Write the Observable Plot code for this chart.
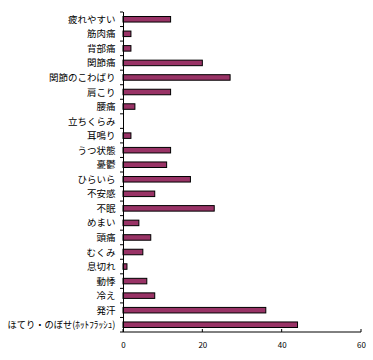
<!DOCTYPE html>
<html><head><meta charset="utf-8">
<script src="https://cdn.jsdelivr.net/npm/d3@7"></script>
<script src="https://cdn.jsdelivr.net/npm/@observablehq/plot@0.6"></script>
<style>
html,body{margin:0;padding:0;background:#fff;overflow:hidden;}
svg{display:block;font-family:"Noto Sans CJK JP",sans-serif;}
</style></head><body>
<div id="chart"></div>
<script>
const symptoms = ["疲れやすい","筋肉痛","背部痛","関節痛","関節のこわばり","肩こり","腰痛","立ちくらみ","耳鳴り","うつ状態","憂鬱","ひらいら","不安感","不眠","めまい","頭痛","むくみ","息切れ","動悸","冷え","発汗","ほてり・のぼせ(ﾎｯﾄﾌﾗｯｼｭ)"];
const counts = [12,2,2,20,27,12,3,0,2,12,11,17,8,23,4,7,5,1,6,8,36,44];
const xTicks = [0,20,40,60];

const data = symptoms.map((s,i)=>({symptom:s, count:counts[i]}));

const chart = Plot.plot({
  width: 373, height: 360,
  marginLeft: 123, marginRight: 12, marginTop: 12, marginBottom: 28,
  style: {fontFamily: '"Noto Sans CJK JP", sans-serif', color: "#000", background: "#fff", maxWidth: "none"},
  x: {domain: [0,60], ticks: xTicks},
  y: {domain: symptoms, paddingInner: 0.62, paddingOuter: 0.31, round: false},
  marks: [
    Plot.barX(data, {x: "count", y: "symptom", fill: "#993366", stroke: "#000", strokeWidth: 1}),
    Plot.axisX({ticks: xTicks, tickSize: 0, tickPadding: 10, fontSize: 8, label: null}),
    Plot.axisY({tickSize: 0, tickPadding: 8, fontSize: 9.5, label: null}),
    Plot.ruleX([0], {stroke: "#000"})
  ]
});
document.getElementById("chart").appendChild(chart);

// boundary ticks on y axis and inward ticks on x axis, from the chart's scales
const sy = chart.scale("y"), sx = chart.scale("x");
const svg = d3.select(chart);
const step = sy.step;
const x0 = sx.apply(0);
const bounds = d3.range(symptoms.length + 1).map(i => sy.range[0] + i*step);
const g = svg.append("g").attr("stroke", "#000");
bounds.forEach(b => g.append("line").attr("x1", x0 - 3).attr("x2", x0).attr("y1", b).attr("y2", b));
const yb = sy.range[1];
xTicks.forEach(t => g.append("line").attr("x1", sx.apply(t)).attr("x2", sx.apply(t)).attr("y1", yb).attr("y2", yb - 3));
svg.append("line").attr("stroke","#000").attr("x1", x0).attr("x2", sx.apply(60)).attr("y1", yb).attr("y2", yb);

// fit the long label into its space
svg.selectAll("text").filter(function(){ return this.textContent === symptoms[symptoms.length-1]; })
  .attr("textLength", 108).attr("lengthAdjust", "spacingAndGlyphs");
</script>
</body></html>
